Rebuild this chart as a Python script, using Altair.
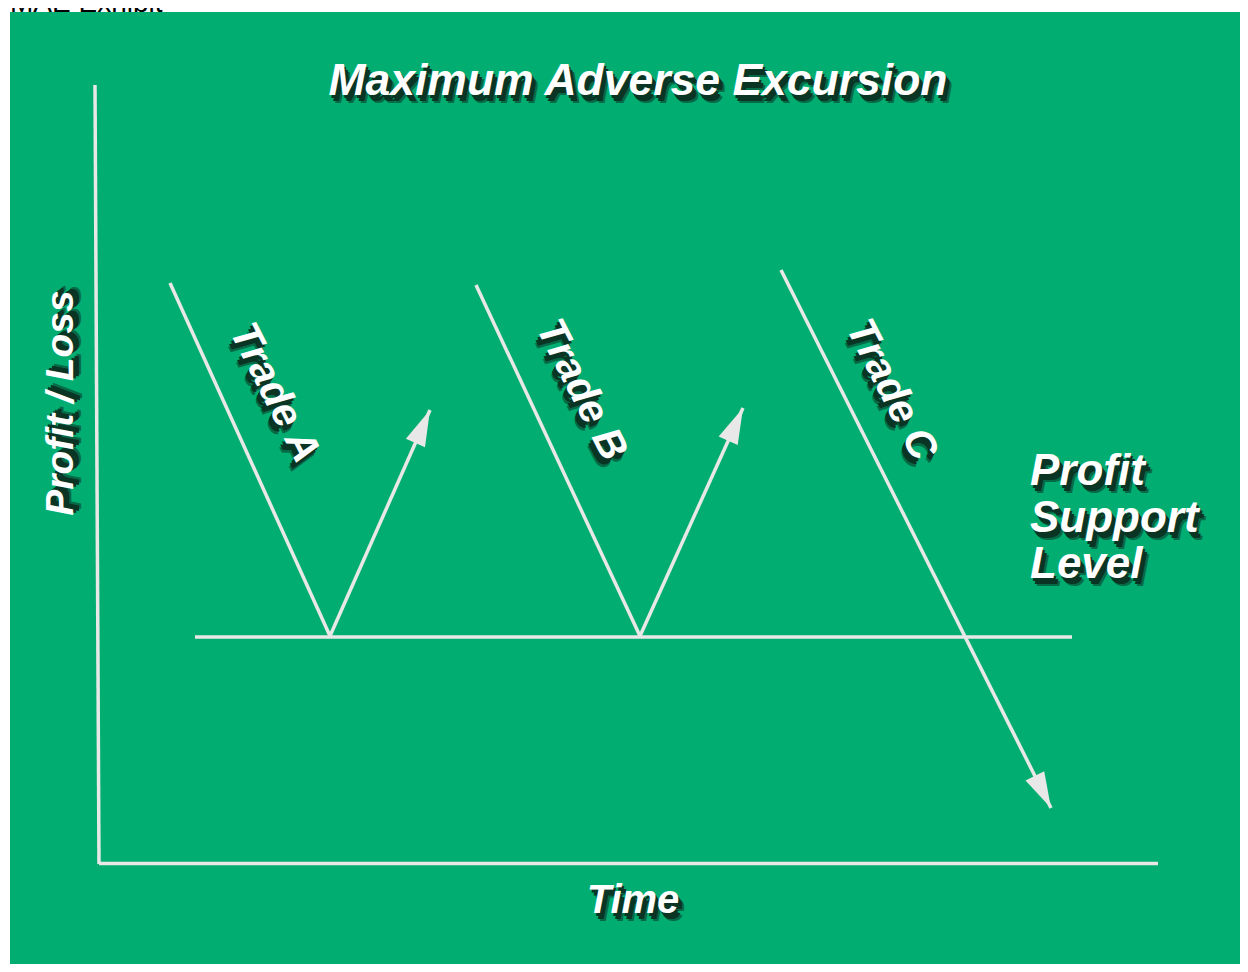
import math
import altair as alt
import pandas as pd

# ---- data (page-pixel coordinate space of the diagram) ----
seg_names = ["y_axis", "x_axis", "support", "trade_a_down", "trade_a_up",
             "trade_b_down", "trade_b_up", "trade_c"]
seg_x1 = [95, 99, 195, 170, 330, 476, 640, 781]
seg_y1 = [85, 863.5, 637, 283, 636, 285, 636, 270]
seg_x2 = [99, 1158, 1072, 330, 430, 640, 743, 1051]
seg_y2 = [864, 863.5, 637, 636, 410, 636, 408, 808]
arrow_segments = ["trade_a_up", "trade_b_up", "trade_c"]

label_text = ["Maximum Adverse Excursion", "Time"]
label_x = [638, 633]
label_y = [95, 913]
label_size = [44.5, 40]

pl_text = ["Profit / Loss"]
pl_x = [73]
pl_y = [403]

trade_text = ["Trade A", "Trade B", "Trade C"]
trade_x = [274, 581, 891]
trade_y = [393, 390, 390]
trade_angle = [63, 63, 63]

psl_text = ["Profit", "Support", "Level"]
psl_x = [1030, 1030, 1030]
psl_y = [485, 532, 578]

GREEN = "#02AD72"
LINE = "#E8E8E8"
SHADOW = "#0A3524"
FONT = "Liberation Sans"

segs = pd.DataFrame({"name": seg_names, "x": seg_x1, "y": seg_y1,
                     "x2": seg_x2, "y2": seg_y2})
heads = []
for n, a, b, c, d in zip(seg_names, seg_x1, seg_y1, seg_x2, seg_y2):
    if n in arrow_segments:
        ang = math.degrees(math.atan2(c - a, -(d - b))) % 360
        heads.append({"x": c, "y": d, "angle": ang})
heads = pd.DataFrame(heads)

xs = alt.Scale(domain=[8, 1240], nice=False, zero=False)
ys = alt.Scale(domain=[8, 964], nice=False, zero=False, reverse=True)

bg = alt.Chart(pd.DataFrame({"x": [10], "x2": [1240], "y": [12], "y2": [964]})).mark_rect(
    color=GREEN).encode(
    x=alt.X("x:Q", scale=xs, axis=None), x2="x2:Q",
    y=alt.Y("y:Q", scale=ys, axis=None), y2="y2:Q")

exhibit = alt.Chart(pd.DataFrame({"t": ["MAE Exhibit"], "x": [10], "y": [12]})).mark_text(
    align="left", baseline="alphabetic", font=FONT, fontSize=28, color="#000000").encode(
    x=alt.X("x:Q", scale=xs, axis=None), y=alt.Y("y:Q", scale=ys, axis=None), text="t:N")

lines = alt.Chart(segs).mark_rule(color=LINE, strokeWidth=3.5).encode(
    x=alt.X("x:Q", scale=xs, axis=None), x2="x2:Q",
    y=alt.Y("y:Q", scale=ys, axis=None), y2="y2:Q")

arrowheads = alt.Chart(heads).mark_point(
    shape="M0,0L0.29,1L-0.29,1Z", filled=True, opacity=1, color=LINE, size=5184,
    strokeWidth=0).encode(
    x=alt.X("x:Q", scale=xs, axis=None), y=alt.Y("y:Q", scale=ys, axis=None),
    angle=alt.Angle("angle:Q", scale=None))


def text_layers(df, align, baseline, size=None, angle=None):
    out = []
    for dx, dy, col, op in [(6, 8, SHADOW, 0.55), (4, 6, SHADOW, 1.0),
                            (2, 3, SHADOW, 1.0), (0, 0, "#FFFFFF", 1.0)]:
        props = dict(align=align, baseline=baseline, font=FONT, fontWeight="bold",
                     fontStyle="italic", color=col, dx=dx, dy=dy, opacity=op)
        if angle is not None:
            props["angle"] = angle
        enc = dict(x=alt.X("x:Q", scale=xs, axis=None),
                   y=alt.Y("y:Q", scale=ys, axis=None), text="t:N")
        if size is None:
            enc["size"] = alt.Size("s:Q", scale=None, legend=None)
        else:
            props["fontSize"] = size
        if "a" in df.columns:
            enc["angle"] = alt.Angle("a:Q", scale=None)
        out.append(alt.Chart(df).mark_text(**props).encode(**enc))
    return out


labels = text_layers(pd.DataFrame({"t": label_text, "x": label_x, "y": label_y,
                                   "s": label_size}), "center", "alphabetic")
pl = text_layers(pd.DataFrame({"t": pl_text, "x": pl_x, "y": pl_y}),
                 "center", "alphabetic", size=39, angle=270)
trades = text_layers(pd.DataFrame({"t": trade_text, "x": trade_x, "y": trade_y,
                                   "a": trade_angle}), "center", "middle", size=41)
psl = text_layers(pd.DataFrame({"t": psl_text, "x": psl_x, "y": psl_y}),
                  "left", "alphabetic", size=44)

chart = alt.layer(bg, exhibit, lines, arrowheads, *labels, *pl, *trades, *psl).properties(
    width=1232, height=956, padding=0,
    autosize=alt.AutoSizeParams(type="none"),
    background="#FFFFFF",
).configure_view(stroke=None)

chart.save("out.html", embed_options={"renderer": "svg", "actions": False})
